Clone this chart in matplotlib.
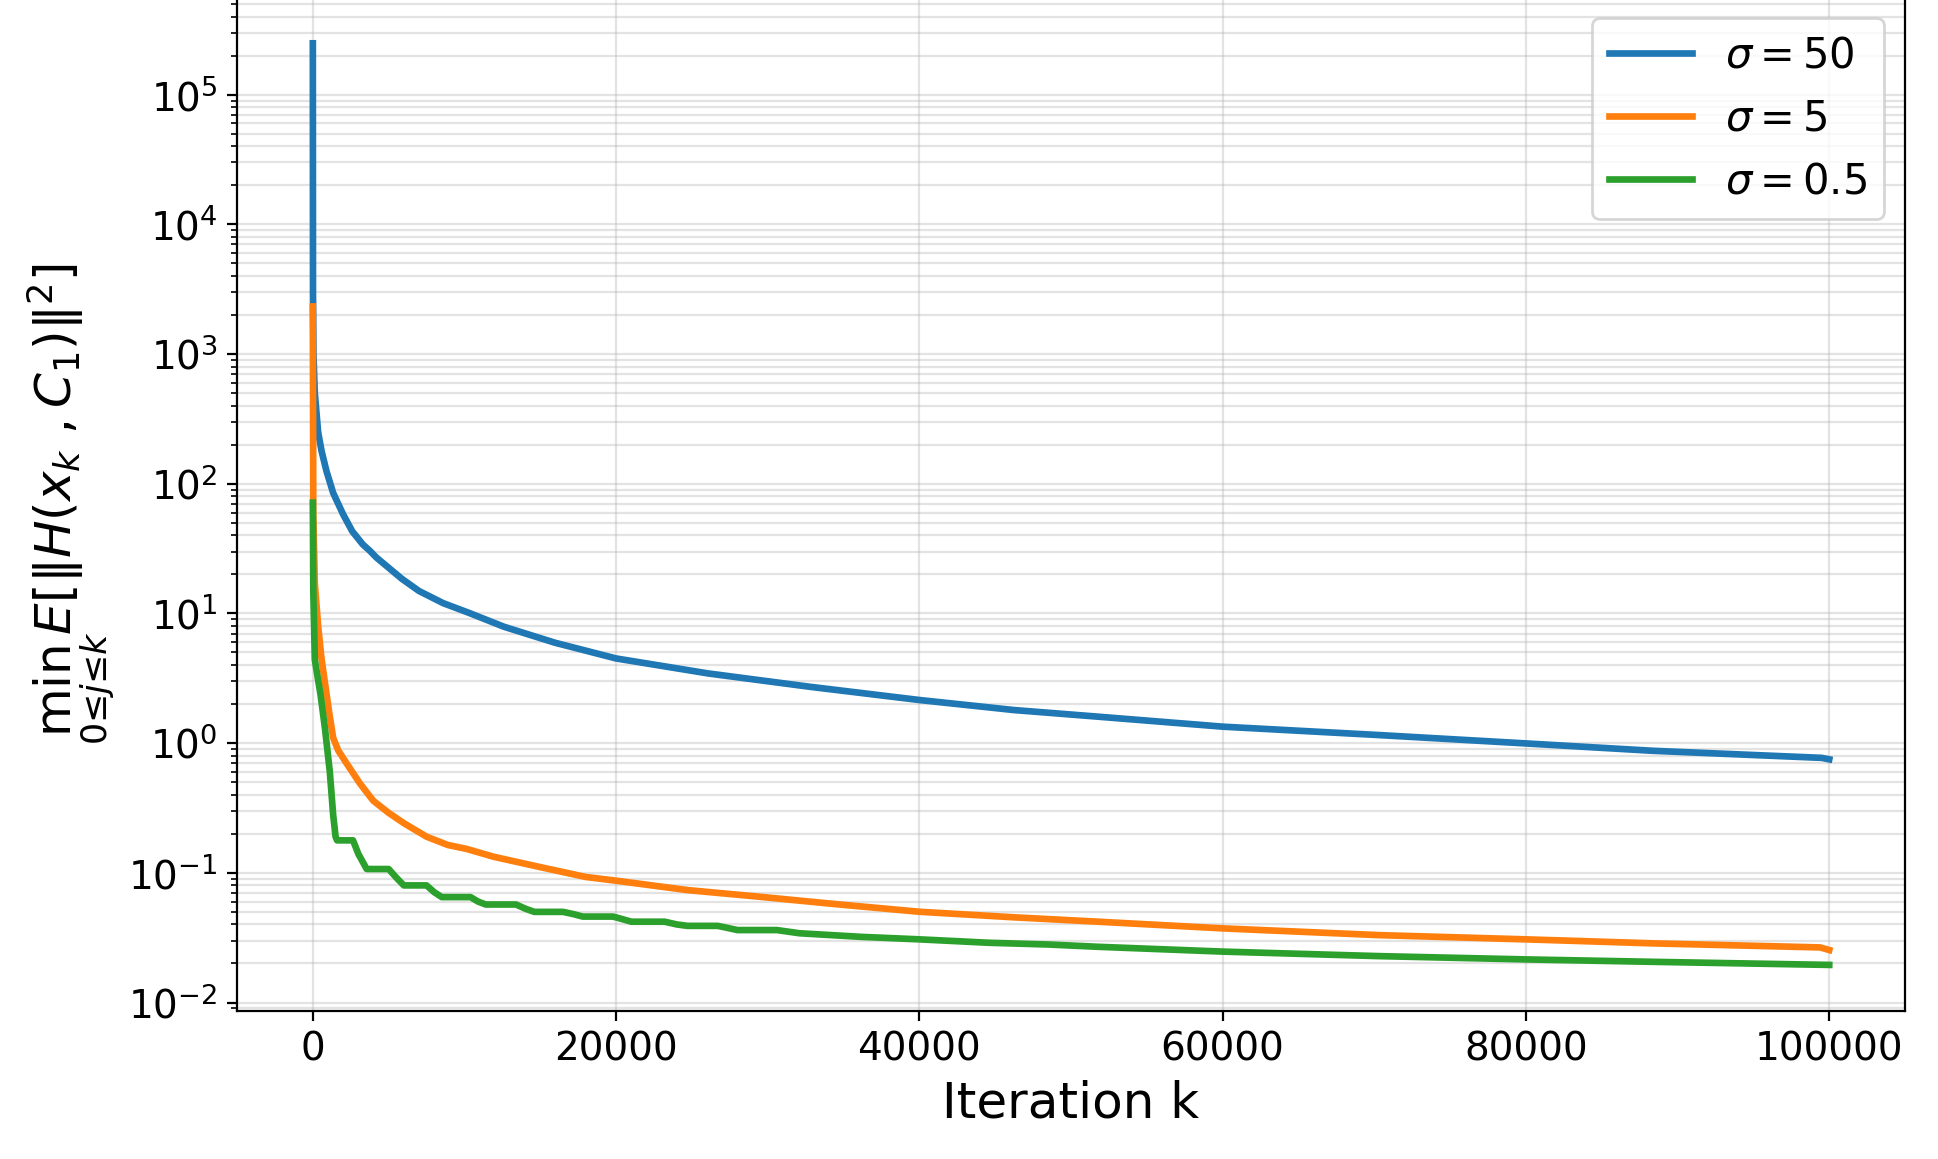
import matplotlib
matplotlib.use("Agg")
import matplotlib.pyplot as plt

# ---- data ----
k_blue = [0, 10, 40, 130, 350, 570, 900, 1340, 2000, 2600, 3300, 3750, 4190, 5000,
          5870, 7000, 8600, 10300, 12600, 15960, 19990, 26050, 32780, 40010,
          46230, 51780, 60000, 70270, 80000, 88360, 99500, 100000]
v_blue = [2.49e5, 3000, 1000, 500, 250, 180, 125, 85, 58, 43, 34, 30.5, 27, 22.5,
          18.5, 14.9, 12.0, 10.1, 7.9, 5.95, 4.5, 3.45, 2.72, 2.15,
          1.80, 1.60, 1.34, 1.155, 0.995, 0.873, 0.77, 0.75]

k_orange = [0, 30, 130, 350, 570, 900, 1120, 1340, 1670, 2220, 3100, 3980, 5000,
            6040, 7500, 8900, 10130, 11930, 14950, 17980, 19990, 24710, 29410,
            34460, 40010, 46230, 51780, 60000, 70270, 80000, 88360, 99400, 100000]
v_orange = [2330, 60, 17, 8, 4.5, 2.4, 1.6, 1.1, 0.88, 0.70, 0.49, 0.36, 0.29,
            0.24, 0.19, 0.164, 0.153, 0.133, 0.111, 0.093, 0.087, 0.0736, 0.0655,
            0.0574, 0.0501, 0.0454, 0.042, 0.0373, 0.0331, 0.0307, 0.0286, 0.0266, 0.0254]

k_green = [0, 30, 130, 320, 500, 800, 1120, 1340, 1500, 1600, 2650, 3000, 3550,
           5000, 5500, 6000, 7500, 8000, 8500, 10400, 10900, 11400, 13400, 14000,
           14600, 16500, 17200, 17800, 19800, 20400, 21000, 23200, 24000, 24700,
           26700, 27400, 28000, 30600, 32100, 36140, 40010, 44550, 48580, 51780,
           60000, 70270, 80000, 88360, 100000]
v_green = [71.5, 15, 4.4, 3.2, 2.4, 1.3, 0.6, 0.28, 0.19, 0.178, 0.178, 0.14, 0.107,
           0.107, 0.092, 0.080, 0.080, 0.071, 0.065, 0.065, 0.060, 0.057, 0.057, 0.053,
           0.050, 0.050, 0.048, 0.046, 0.046, 0.044, 0.042, 0.042, 0.040, 0.039,
           0.039, 0.0375, 0.0362, 0.0362, 0.0342, 0.0321, 0.0307, 0.0289, 0.0280, 0.0269,
           0.0247, 0.0228, 0.0215, 0.0206, 0.0195]

labels = [r'$\sigma = 50$', r'$\sigma = 5$', r'$\sigma = 0.5$']
colors = ['#1f77b4', '#ff7f0e', '#2ca02c']

fig = plt.figure(figsize=(9.69, 5.795), dpi=200)
ax = fig.add_axes([0.1223, 0.1277, 0.8607, 0.8747])

for k, v, lab, c in zip([k_blue, k_orange, k_green], [v_blue, v_orange, v_green], labels, colors):
    ax.plot(k, v, color=c, lw=2.4, label=lab)

ax.set_yscale('log')
ax.grid(True, which='both', alpha=0.35)
ax.tick_params(labelsize=14)
ax.set_xlabel('Iteration k', fontsize=18)
ax.set_ylabel(r'$\min_{0\leq j\leq k} E[\|H(x_k\,,C_1)\|^2]$', fontsize=18)
ax.legend(loc='upper right', fontsize=15)

fig.savefig('out.png', dpi=200)
